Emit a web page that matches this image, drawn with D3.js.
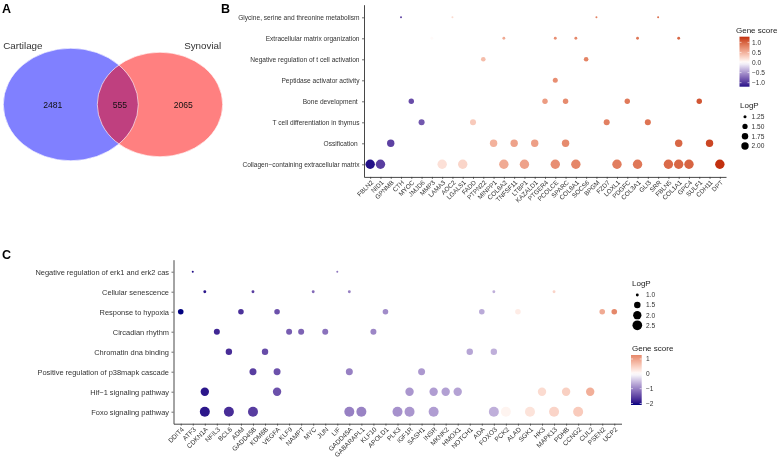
<!DOCTYPE html>
<html><head><meta charset="utf-8">
<script src="https://cdn.jsdelivr.net/npm/d3@7/dist/d3.min.js"></script>
<style>html,body{margin:0;padding:0;background:#fff;}svg{display:block;will-change:transform;-webkit-font-smoothing:antialiased;}</style>
</head><body>
<svg id="chart" width="778" height="468" xmlns="http://www.w3.org/2000/svg"></svg>
<script>
// ---------------- DATA ----------------
const vennSets = ["Cartilage", "Synovial"];
const vennCounts = [2481, 555, 2065]; // cartilage only, shared, synovial only
const vennColors = ["#0000FF", "#FF0000"];

const bTerms = [
  "Glycine, serine and threonine metabolism",
  "Extracellular matrix organization",
  "Negative regulation of t cell activation",
  "Peptidase activator activity",
  "Bone development ",
  "T cell differentiation in thymus",
  "Ossification ",
  "Collagen\u2212containing extracellular matrix"
];
const bLogP = [1.22, 1.24, 1.40, 1.46, 1.53, 1.65, 2.00, 2.68];
const bGenes = ["FBLN2","NID1","GPNMB","CTH","MYOC","JMJD6","MMP3","LAMA3","AOC2","LGALS1","FADD","PTPN22","MINPP1","COL8A2","TNFSF11","LTBP1","KAZALD1","PTGER4","PCOLCE","SPARC","COL8A1","SOCS6","BPGM","FZD7","LOXL1","PDGFC","COL3A1","GLI3","SRR","FBLN5","COL1A1","GPC4","SULF1","CDH11","DPT"];
const bScores = [-1.20,-0.96,-0.94,-0.92,-0.88,-0.82,0.03,0.20,0.24,0.27,0.34,0.43,0.50,0.55,0.60,0.60,0.62,0.64,0.73,0.75,0.78,0.80,0.81,0.82,0.84,0.86,0.88,0.90,0.92,0.96,0.98,1.00,1.08,1.17,1.28];
const bMembers = [
  ["CTH","AOC2","BPGM","SRR"],
  ["MMP3","COL8A2","PCOLCE","COL8A1","COL3A1","COL1A1"],
  ["PTPN22","SOCS6"],
  ["PCOLCE"],
  ["MYOC","PTGER4","SPARC","PDGFC","SULF1"],
  ["JMJD6","FADD","FZD7","GLI3"],
  ["GPNMB","MINPP1","TNFSF11","KAZALD1","SPARC","COL1A1","CDH11"],
  ["FBLN2","NID1","LAMA3","LGALS1","COL8A2","LTBP1","PCOLCE","COL8A1","LOXL1","COL3A1","FBLN5","COL1A1","GPC4","DPT"]
];
const bScoreTicks = [1.0, 0.5, 0.0, -0.5, -1.0];
const bLogPTicks = [1.25, 1.50, 1.75, 2.00];

const cTerms = [
  "Negative regulation of erk1 and erk2 cas",
  "Cellular senescence",
  "Response to hypoxia",
  "Circadian rhythm",
  "Chromatin dna binding",
  "Positive regulation of p38mapk cascade",
  "Hif\u22121 signaling pathway",
  "Foxo signaling pathway"
];
const cLogP = [0.98, 1.00, 1.31, 1.39, 1.48, 1.62, 2.03, 2.62];
const cGenes = ["DDIT4","ATF3","CDKN1A","NFIL3","BCL6","ADM","GADD45B","KDM6B","VEGFA","KLF9","NAMPT","MYC","JUN","LIF","GADD45A","GABARAPL1","KLF10","APOLD1","PLK3","IGF1R","SASH1","INSR","MKNK2","HMOX1","NOTCH1","ADA","FOXO3","PCK2","ALAD","SGK1","HK3","MAPK13","PDHB","CCNG2","CUL2","PSEN2","UCP2"];
const cScores = [-2.10,-2.00,-1.92,-1.78,-1.72,-1.68,-1.58,-1.45,-1.40,-1.30,-1.25,-1.20,-1.12,-1.08,-1.00,-0.98,-0.95,-0.90,-0.86,-0.82,-0.80,-0.76,-0.74,-0.72,-0.70,-0.66,-0.62,0.12,0.20,0.30,0.38,0.45,0.50,0.55,0.85,0.90,1.27];
const cMembers = [
  ["ATF3","LIF"],
  ["CDKN1A","GADD45B","MYC","GADD45A","FOXO3","MAPK13"],
  ["DDIT4","ADM","VEGFA","APOLD1","ADA","ALAD","PSEN2","UCP2"],
  ["NFIL3","KLF9","NAMPT","JUN","KLF10"],
  ["BCL6","KDM6B","NOTCH1","FOXO3"],
  ["GADD45B","VEGFA","GADD45A","SASH1"],
  ["CDKN1A","VEGFA","IGF1R","INSR","MKNK2","HMOX1","HK3","PDHB","CUL2"],
  ["CDKN1A","BCL6","GADD45B","GADD45A","GABARAPL1","PLK3","IGF1R","INSR","FOXO3","PCK2","SGK1","MAPK13","CCNG2"]
];
const cScoreTicks = [1, 0, -1, -2];
const cLogPTicks = [1.0, 1.5, 2.0, 2.5];

// ---------------- STYLE ----------------
const FONT = "'Liberation Sans', Arial, Helvetica, sans-serif";
const LOW = "#000080", MID = "#FFFFFF", HIGH = "#C2300F";
const AXIS = "#333333", TXT = "#333333";
const svg = d3.select("#chart").style("font-family", FONT);
const root = svg.append("g").attr("opacity", 0.999);

function colorScale(lim) {
  const m = d3.max(lim, Math.abs);
  return d3.scaleLinear().domain([-m, 0, m]).range([LOW, MID, HIGH]).interpolate(d3.interpolateLab).clamp(true);
}
function sizeScale(lim, rr) {
  const n = d3.scaleLinear().domain(lim).range([0, 1]).clamp(true);
  const s = d3.scaleSqrt().domain([0, 1]).range(rr);
  return v => s(n(v));
}

// panel letters
[["A", 2, 12.5], ["B", 221, 12.5], ["C", 2, 258.5]].forEach(([t, x, y]) =>
  root.append("text").attr("x", x).attr("y", y).attr("font-size", 12.5).attr("font-weight", "bold").attr("fill", "#000").text(t));

// ---------------- PANEL A (Venn) ----------------
(function () {
  const areaA = vennCounts[0] + vennCounts[1], areaB = vennCounts[1] + vennCounts[2];
  const rS = d3.scaleSqrt().domain([0, areaA]).range([0, 67.5]);
  const rxA = rS(areaA), rxB = rS(areaB), ASP = 1.2, vy = 104.5;
  const cxA = 3.3 + rxA, cxB = 222.7 - rxB;
  const circles = [[cxA, rxA], [cxB, rxB]];
  const g = root.append("g");
  g.selectAll("ellipse.f").data(circles).join("ellipse").attr("class", "f")
    .attr("cx", d => d[0]).attr("cy", vy).attr("rx", d => d[1]).attr("ry", d => d[1] / ASP)
    .attr("fill", (d, i) => vennColors[i]).attr("fill-opacity", 0.5);
  g.selectAll("ellipse.s").data(circles).join("ellipse").attr("class", "s")
    .attr("cx", d => d[0]).attr("cy", vy).attr("rx", d => d[1]).attr("ry", d => d[1] / ASP)
    .attr("fill", "none").attr("stroke", "#fff").attr("stroke-width", 0.8).attr("stroke-opacity", 0.8);
  const lA = cxA - rxA, rA = cxA + rxA, lB = cxB - rxB, rB = cxB + rxB;
  const pos = [(lA + lB) / 2 + 2.4, (lB + rA) / 2 + 2.2, (rA + rB) / 2 + 2.8];
  g.selectAll("text.n").data(vennCounts).join("text").attr("class", "n")
    .attr("x", (d, i) => pos[i]).attr("y", vy).attr("dy", "0.35em").attr("text-anchor", "middle")
    .attr("font-size", 8.6).attr("fill", "#111").text(d => d);
  g.append("text").attr("x", lA).attr("y", 46).attr("dy", "0.35em").attr("font-size", 9.8).attr("fill", "#333").text(vennSets[0]);
  g.append("text").attr("x", rB - 1.5).attr("y", 46).attr("dy", "0.35em").attr("text-anchor", "end").attr("font-size", 9.8).attr("fill", "#333").text(vennSets[1]);
})();

// ---------------- DOT PANELS ----------------
function dotPanel(cfg) {
  const x = d3.scalePoint().domain(cfg.genes).range(cfg.xr).padding(0.6);
  const y = d3.scalePoint().domain(cfg.terms).range(cfg.yr).padding(0.6);
  const col = colorScale(cfg.scoreLim);
  const size = sizeScale(cfg.logpLim, cfg.rRange);
  const scoreOf = new Map(cfg.genes.map((g, i) => [g, cfg.scores[i]]));
  const g = root.append("g");

  const ax = g.append("g").attr("transform", `translate(0,${cfg.yr[1]})`)
    .call(d3.axisBottom(x).tickSize(2).tickSizeOuter(0).tickPadding(0));
  ax.attr("color", AXIS).attr("font-family", FONT);
  ax.select(".domain").attr("stroke-width", 0.9);
  ax.selectAll(".tick line").attr("stroke-width", 0.7);
  ax.selectAll("text").attr("x", 0).attr("y", 0).attr("dy", "0.35em").attr("text-anchor", "end")
    .attr("transform", "translate(1.5,4.5) rotate(-45)").attr("font-size", cfg.xfs).attr("fill", TXT);

  const ay = g.append("g").attr("transform", `translate(${cfg.xr[0]},0)`)
    .call(d3.axisLeft(y).tickSize(2).tickSizeOuter(0).tickPadding(2.5));
  ay.attr("color", AXIS).attr("font-family", FONT);
  ay.select(".domain").attr("stroke-width", 0.9);
  ay.selectAll(".tick line").attr("stroke-width", 0.7);
  ay.selectAll("text").attr("font-size", cfg.yfs).attr("fill", TXT).style("white-space", "pre");

  const pts = cfg.terms.flatMap((t, i) => cfg.members[i].map(gn => ({ term: t, gene: gn, logp: cfg.logp[i], score: scoreOf.get(gn) })));
  g.selectAll("circle.pt").data(pts).join("circle").attr("class", "pt")
    .attr("cx", d => x(d.gene)).attr("cy", d => y(d.term)).attr("r", d => size(d.logp))
    .attr("fill", d => col(d.score));
  return { col, size };
}

function colorLegend(sc, lim, ticks, fmt, L, id) {
  const g = root.append("g");
  g.append("text").attr("x", L.tx).attr("y", L.ty).attr("dy", "0.35em").attr("font-size", 8).attr("fill", "#222").text("Gene score");
  const yS = d3.scaleLinear().domain(lim).range([L.y1, L.y0]);
  const grad = svg.append("defs").append("linearGradient").attr("id", id).attr("x1", 0).attr("x2", 0).attr("y1", 1).attr("y2", 0);
  d3.range(0, 1.0001, 0.05).forEach(t => grad.append("stop").attr("offset", t).attr("stop-color", sc(lim[0] + t * (lim[1] - lim[0]))));
  g.append("rect").attr("x", L.bx).attr("y", L.y0).attr("width", L.bw).attr("height", L.y1 - L.y0).attr("fill", `url(#${id})`);
  ticks.forEach(t => {
    g.append("line").attr("x1", L.bx).attr("x2", L.bx + 2).attr("y1", yS(t)).attr("y2", yS(t)).attr("stroke", "#fff").attr("stroke-width", 0.6);
    g.append("line").attr("x1", L.bx + L.bw - 2).attr("x2", L.bx + L.bw).attr("y1", yS(t)).attr("y2", yS(t)).attr("stroke", "#fff").attr("stroke-width", 0.6);
    g.append("text").attr("x", L.lx).attr("y", yS(t)).attr("dy", "0.35em").attr("font-size", 6.6).attr("fill", "#333").text(fmt(t));
  });
}
function sizeLegend(size, ticks, fmt, L) {
  const g = root.append("g");
  g.append("text").attr("x", L.tx).attr("y", L.ty).attr("dy", "0.35em").attr("font-size", 8).attr("fill", "#222").text("LogP");
  ticks.forEach((t, i) => {
    const yy = L.y0 + i * L.dy;
    g.append("circle").attr("cx", L.cx).attr("cy", yy).attr("r", size(t)).attr("fill", "#000");
    g.append("text").attr("x", L.lx).attr("y", yy).attr("dy", "0.35em").attr("font-size", 6.6).attr("fill", "#333").text(fmt(t));
  });
}

// Panel B
const bLim = [-1.2, 1.28];
const B = dotPanel({
  genes: bGenes, scores: bScores, terms: bTerms, logp: bLogP, members: bMembers,
  xr: [364, 726], yr: [4.7, 176.9], scoreLim: bLim, logpLim: [1.22, 2.68], rRange: [1.0, 4.7],
  xfs: 6.4, yfs: 6.6
});
colorLegend(B.col, bLim, bScoreTicks, d3.format(".1f"), { tx: 736, ty: 30, bx: 739.5, bw: 10, y0: 36.7, y1: 86.7, lx: 752 }, "gB");
sizeLegend(B.size, bLogPTicks, d3.format(".2f"), { tx: 740, ty: 105, cx: 745, y0: 116.7, dy: 9.77, lx: 751.5 });

// Panel C
const cLim = [-2.1, 1.27];
const C = dotPanel({
  genes: cGenes, scores: cScores, terms: cTerms, logp: cLogP, members: cMembers,
  xr: [173.5, 621.5], yr: [259.7, 423.7], scoreLim: cLim, logpLim: [0.98, 2.62], rRange: [1.0, 5.0],
  xfs: 6.6, yfs: 7.45
});
sizeLegend(C.size, cLogPTicks, d3.format(".1f"), { tx: 632, ty: 283, cx: 637.3, y0: 295, dy: 10.1, lx: 646 });
colorLegend(C.col, cLim, cScoreTicks, d3.format("d"), { tx: 632, ty: 347.7, bx: 631, bw: 10.7, y0: 355, y1: 405, lx: 646 }, "gC");
</script>
</body></html>
